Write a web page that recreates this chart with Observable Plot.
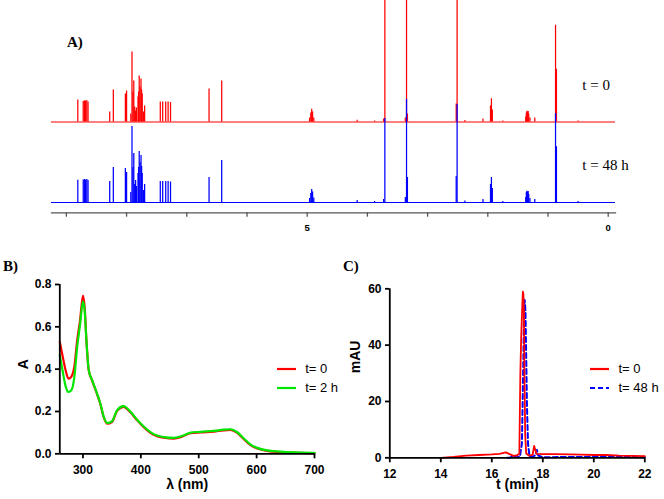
<!DOCTYPE html>
<html><head><meta charset="utf-8">
<script src="https://cdn.jsdelivr.net/npm/d3@7"></script>
<script src="https://cdn.jsdelivr.net/npm/@observablehq/plot@0.6"></script>
<style>
body{margin:0;background:#fff;}
#fig{position:relative;width:664px;height:499px;overflow:hidden;background:#fff;}
.panel{position:absolute;}
.plab{position:absolute;font-family:"Liberation Serif","Times New Roman",serif;font-weight:bold;font-size:15px;line-height:15px;}
.leg{position:absolute;height:16px;font-family:"Liberation Sans",Arial,sans-serif;font-size:13px;line-height:16px;display:flex;align-items:center;white-space:nowrap;}
.leg svg{margin-right:9.5px;}
</style></head><body><div id="fig"></div>
<script>
// ---------- Panel A: 1H NMR (chemical shift ppm, peak heights) ----------
const nmrSeries = ["t = 0", "t = 48 h"];
const nmrPpm  = [8.81,8.72,8.70,8.68,8.66,8.64,8.28,8.22,8.02,8.00,7.93,7.91,7.895,7.88,7.865,7.85,7.835,7.81,7.80,7.79,7.775,7.76,7.75,7.74,7.72,7.70,7.44,7.40,7.35,7.31,7.27,6.63,6.42,4.96,4.94,4.925,4.91,4.89,4.17,3.88,3.73,3.71,3.37,3.35,3.335,2.525,2.51,2.38,2.08,1.955,1.94,1.925,1.75,1.37,1.36,1.35,1.34,1.33,1.32,1.30,1.22,0.875,0.86,0.50];
const nmrRed  = [22,20.5,21.3,21,21.3,20,10,32,28,31,8,70,30,41,15,11,14,25,30,46,35,43,32,28,10,16,20,20,20,20,19.5,33,41,4,9,12.7,10,4,1.7,1,3,200,4,200,8,18,200,1.5,3,16,23.3,12,1,5,9,10.7,10,10.5,8,4,4,96.7,52.7,1];
const nmrBlue = [22.3,22.5,23,22.5,23,22,21,35,34,30,10,76,35,49,18,22,16,29,35,51,40,47,36,29,12,18,21,21,21,21,20.5,25,42,4,9,13,10.5,4.5,2,1,3,84,5,103,25,26,98,1.5,3,18,25,14,1,5,10,11.3,10.5,11,8,4,3,89,55.7,1];
const nmrTicks = [0,1,2,3,4,5,6,7,8,9];
const nmrTickLabels = [0,5];

// ---------- Panel B: UV-vis ----------
const uvSeries = ["t= 0", "t= 2 h"];
const uvWavelength = [260,265,270,275,280,285,290,295,300,303,306,310,316,324,330,336,342,350,359,370,382,394,405,422,440,457,471,486,503,526,543,555,566,578,589,601,618,647,676,700];
const uvRed   = [0.528,0.46,0.395,0.355,0.365,0.41,0.535,0.63,0.748,0.69,0.535,0.394,0.345,0.285,0.236,0.172,0.142,0.15,0.203,0.222,0.196,0.157,0.126,0.09,0.076,0.072,0.081,0.097,0.101,0.105,0.111,0.113,0.1,0.069,0.042,0.025,0.014,0.007,0.004,0.002];
const uvGreen = [0.465,0.39,0.32,0.292,0.30,0.36,0.505,0.61,0.72,0.675,0.535,0.396,0.347,0.287,0.238,0.174,0.145,0.153,0.206,0.225,0.199,0.16,0.129,0.093,0.079,0.075,0.084,0.1,0.104,0.108,0.114,0.116,0.103,0.072,0.045,0.028,0.016,0.009,0.006,0.004];
const uvXTicks = [300,400,500,600,700];
const uvYTicks = [0,0.2,0.4,0.6,0.8];

// ---------- Panel C: HPLC ----------
const hplcSeries = ["t= 0", "t= 48 h"];
const hplcTimeRed = [14.0,14.5,15.0,15.5,16.0,16.3,16.55,16.7,16.85,17.0,17.08,17.12,17.15,17.18,17.2,17.22,17.24,17.26,17.28,17.31,17.35,17.45,17.6,17.66,17.7,17.75,18.0,18.5,19.0,19.5,20.0,20.5,21.0,21.5,22.0];
const hplcRed     = [0,0.3,0.8,1.0,1.2,1.4,1.9,1.3,0.7,0.9,1.5,30,42,50,55,59,58,52,30,8,1.5,0.8,1.0,4.2,3,1.4,1.3,1.3,1.2,1.1,1.0,1.0,0.8,0.7,0.6];
const hplcTimeBlue = [16.6,16.7,16.85,16.95,17.1,17.18,17.22,17.26,17.29,17.32,17.35,17.38,17.42,17.48,17.6,17.72,17.77,17.82,18.0,19.0,20.0,21.0,22.0];
const hplcBlue     = [0,0,0.8,0.2,0.3,5,25,48,56,52,35,18,5,0.5,0.3,1,2.8,0.8,0.2,0.3,0.3,0.3,0.2];
const hplcXTicks = [12,14,16,18,20,22];
const hplcYTicks = [0,20,40,60];

// ---------- styles / layout (not data) ----------
const nmrColors = ["#ff0000", "#0000ff"];
const nmrOffset = [80.5, 0];       // vertical stacking of the two spectra
const uvColors = ["#ff0000", "#00e600"];
const hplcColors = ["#ff0000", "#0000ff"];
const hplcDash = [null, "5,3"];
const sans = "'Liberation Sans', Arial, sans-serif";
const serif = "'Liberation Serif', 'Times New Roman', serif";

const fig = document.getElementById("fig");
function place(el, left, top) { el.classList.add("panel"); el.style.left = left + "px"; el.style.top = top + "px"; fig.appendChild(el); }

// ---------- Panel A ----------
const nmrData = [nmrRed, nmrBlue];
const nmrMarks = [
  Plot.frame({anchor: "bottom", stroke: "#555", strokeWidth: 1.3}),
  Plot.axisX({ticks: nmrTicks, tickFormat: d => nmrTickLabels.includes(d) ? String(d) : "", tickSize: 4.4, tickPadding: 7, stroke: "#555", strokeWidth: 1.3, fill: "#000", fontSize: 9.5, fontWeight: "bold", fontFamily: sans, label: null})
];
nmrSeries.forEach((s, k) => {
  const h = nmrData[k], off = nmrOffset[k];
  nmrMarks.push(Plot.ruleY([off], {stroke: nmrColors[k], strokeWidth: 1.1}));
  nmrMarks.push(Plot.ruleX(nmrPpm, {x: d => d, y1: off, y2: (d, i) => off + h[i], stroke: nmrColors[k], strokeWidth: 1.25, clip: true}));
  nmrMarks.push(Plot.text([s], {x: 0.43, y: off + 37, text: d => d, textAnchor: "start", fontFamily: serif, fontSize: 15, fill: "#000"}));
});
const plotA = Plot.plot({
  width: 664, height: 232,
  marginLeft: 51, marginRight: 49, marginTop: 0, marginBottom: 19.7,
  x: {domain: [9.247, -0.121]},
  y: {domain: [0, 202], range: [202, 0], axis: null},
  style: {background: "transparent"},
  marks: nmrMarks
});
place(plotA, 0, 0);

// ---------- Panel B ----------
const plotB = Plot.plot({
  width: 340, height: 239,
  marginLeft: 59.3, marginRight: 26, marginTop: 24, marginBottom: 45.7,
  x: {domain: [260, 700]},
  y: {domain: [0, 0.8]},
  style: {background: "transparent", fontFamily: sans, fontSize: "12px", fontWeight: "bold", color: "#000"},
  marks: [
    Plot.line(uvRed, {x: uvWavelength, y: uvRed, stroke: uvColors[0], strokeWidth: 2.2, curve: "monotone-x"}),
    Plot.line(uvGreen, {x: uvWavelength, y: uvGreen, stroke: uvColors[1], strokeWidth: 2.2, curve: "monotone-x"}),
    Plot.ruleX([260], {strokeWidth: 1.8, stroke: "#000"}),
    Plot.ruleY([0], {strokeWidth: 1.8, stroke: "#000"}),
    Plot.axisX({ticks: uvXTicks, tickSize: 5, tickPadding: 6.5, strokeWidth: 1.8, label: null}),
    Plot.axisY({ticks: uvYTicks, tickFormat: d3.format(".1f"), tickSize: 4.3, tickPadding: 4, strokeWidth: 1.8, label: null}),
    Plot.text(["λ (nm)"], {frameAnchor: "bottom", dy: 35, text: d => d, fontSize: 14, fontWeight: "bold", fill: "#000"}),
    Plot.text(["A"], {frameAnchor: "left", dx: -36.3, rotate: -90, text: d => d, fontSize: 14, fontWeight: "bold", fill: "#000"})
  ]
});
place(plotB, 0, 260);

// ---------- Panel C ----------
const plotC = Plot.plot({
  width: 324, height: 239,
  marginLeft: 49.3, marginRight: 19.7, marginTop: 28.3, marginBottom: 41.7,
  x: {domain: [12, 22]},
  y: {domain: [0, 60]},
  style: {background: "transparent", fontFamily: sans, fontSize: "12px", fontWeight: "bold", color: "#000"},
  marks: [
    Plot.line(hplcBlue, {x: hplcTimeBlue, y: hplcBlue, stroke: hplcColors[1], strokeWidth: 2, strokeDasharray: hplcDash[1]}),
    Plot.line(hplcRed, {x: hplcTimeRed, y: hplcRed, stroke: hplcColors[0], strokeWidth: 1.8}),
    Plot.ruleX([12], {strokeWidth: 1.8, stroke: "#000"}),
    Plot.ruleY([0], {strokeWidth: 1.8, stroke: "#000"}),
    Plot.axisX({ticks: hplcXTicks, tickSize: 5, tickPadding: 6.5, strokeWidth: 1.8, label: null}),
    Plot.axisY({ticks: hplcYTicks, tickSize: 4.3, tickPadding: 4, strokeWidth: 1.8, label: null}),
    Plot.text(["t (min)"], {frameAnchor: "bottom", dy: 31, text: d => d, fontSize: 14, fontWeight: "bold", fill: "#000"}),
    Plot.text(["mAU"], {frameAnchor: "left", dx: -34.3, rotate: -90, text: d => d, fontSize: 14, fontWeight: "bold", fill: "#000"})
  ]
});
place(plotC, 340, 260);

// ---------- panel letters ----------
[["A)", 67, 34.5], ["B)", 3, 259], ["C)", 343, 259]].forEach(([t, l, tp]) => {
  const d = document.createElement("div"); d.className = "plab"; d.textContent = t;
  d.style.left = l + "px"; d.style.top = tp + "px"; fig.appendChild(d);
});

// ---------- legends ----------
function legend(names, colors, dashes, left, tops) {
  names.forEach((n, k) => {
    const d = document.createElement("div"); d.className = "leg";
    d.style.left = left + "px"; d.style.top = (tops[k] - 8) + "px";
    const dash = dashes && dashes[k] ? ` stroke-dasharray="${dashes[k]}"` : "";
    d.innerHTML = `<svg width="19" height="16"><line x1="0" x2="19" y1="8" y2="8" stroke="${colors[k]}" stroke-width="2.2"${dash}/></svg><span>${n}</span>`;
    fig.appendChild(d);
  });
}
legend(uvSeries, uvColors, null, 276.7, [369, 388.3]);
legend(hplcSeries, hplcColors, hplcDash, 590, [369, 387.7]);
</script></body></html>
